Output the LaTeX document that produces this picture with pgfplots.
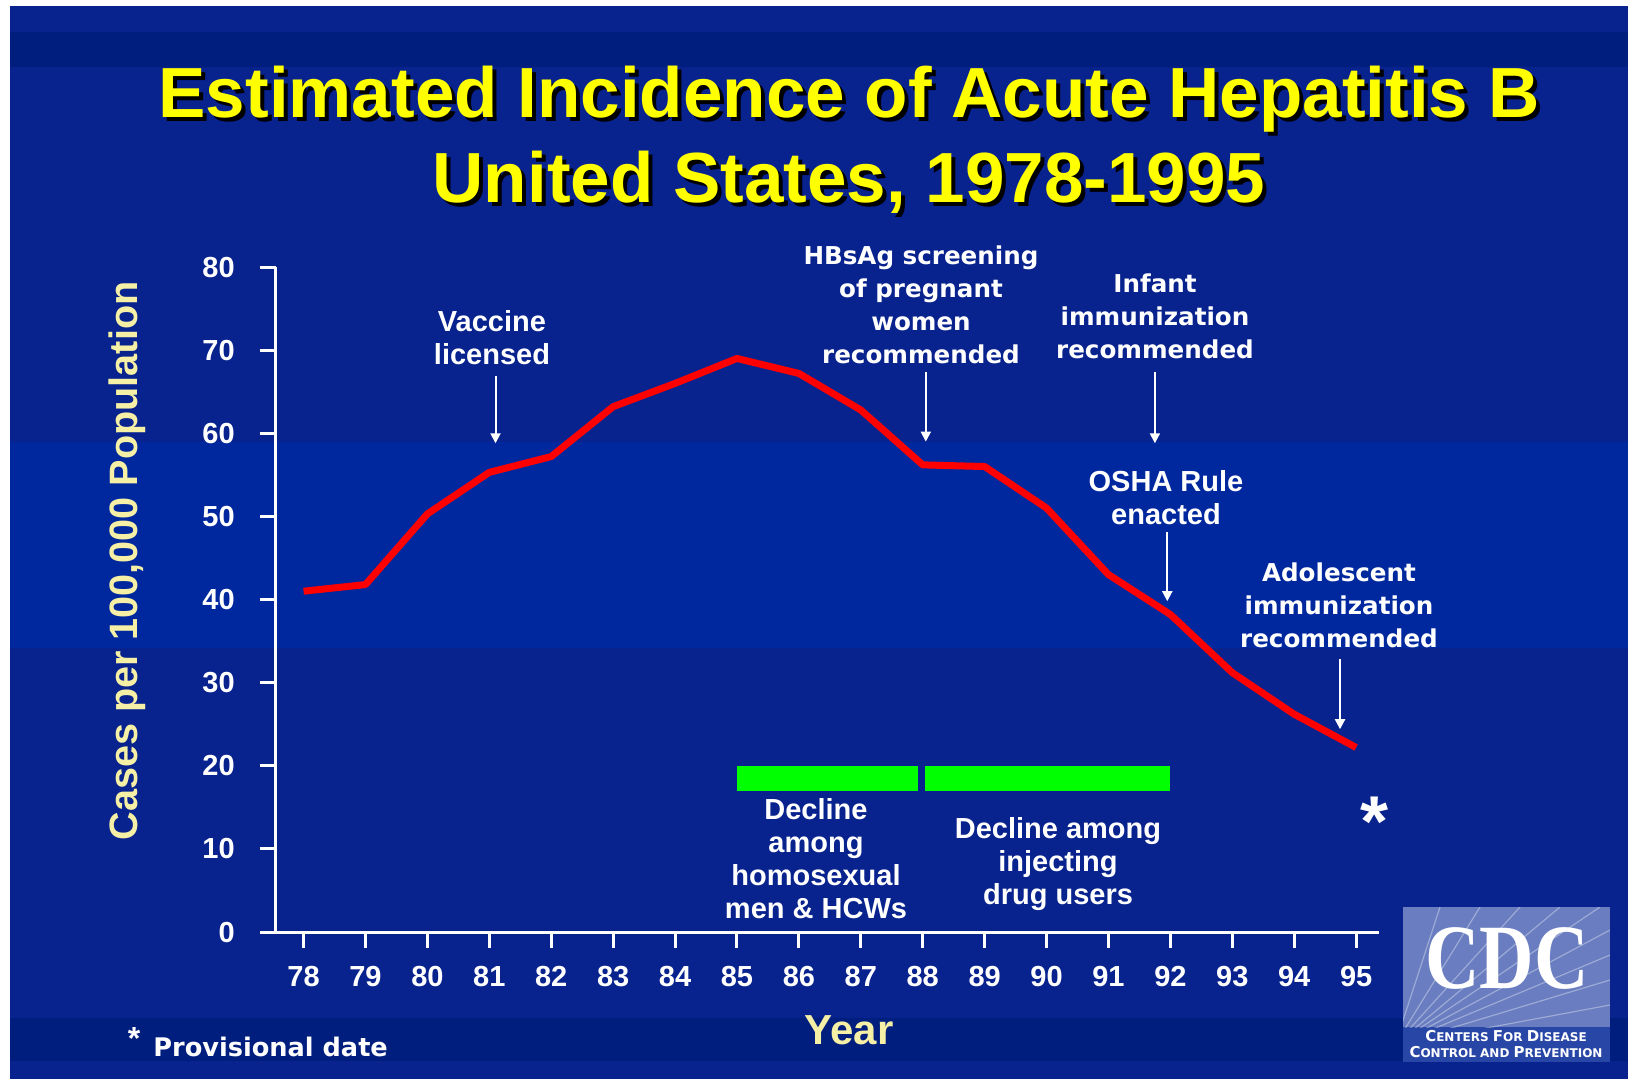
\documentclass[border=0pt]{standalone}
\usepackage{graphicx}
\usepackage{pgfplots}
\pgfplotsset{compat=1.18}
\usepackage{fontspec}
\setmainfont{Liberation Sans}
\newfontfamily\dejavu{DejaVu Sans}
\newfontfamily\lserif{Liberation Serif}
\usetikzlibrary{arrows.meta}
\definecolor{bgblue}{RGB}{8,34,142}
\definecolor{bandblue}{RGB}{0,40,158}
\definecolor{darkband}{RGB}{0,30,125}
\definecolor{paleyellow}{RGB}{245,240,165}
\definecolor{titleyellow}{RGB}{255,255,0}
\definecolor{logoup}{RGB}{105,125,192}
\definecolor{logolow}{RGB}{40,70,165}
\definecolor{barGreen}{RGB}{0,255,0}
\definecolor{lineRed}{RGB}{255,0,0}
\newcommand{\shadowtext}[1]{\leavevmode\rlap{\kern2bp\raisebox{-2bp}{\color{black}#1}}{\color{titleyellow}#1}}
\tikzset{
  annoA/.style={align=center, text=white, inner sep=0pt, anchor=north,
     font=\fontsize{14.5bp}{16.5bp}\selectfont\bfseries},
  annoB/.style={align=center, text=white, inner sep=0pt, anchor=north,
     font=\dejavu\fontsize{12.3bp}{16.5bp}\selectfont\bfseries},
  annoArrow/.style={white, line width=1bp, -{Triangle[width=5bp,length=5bp]}}
}
\begin{document}
\begin{tikzpicture}
\begin{scope}[x=0.5bp,y=-0.5bp]
 \useasboundingbox (0,0) rectangle (1628,1079);
 \fill[white] (0,0) rectangle (1628,1079);
 \fill[bgblue] (10,6) rectangle (1628,1079);
 \fill[darkband] (10,32) rectangle (1628,67);
 \fill[bandblue] (10,442) rectangle (1628,648);
 \fill[darkband] (10,1018) rectangle (1628,1061);
 % title with shadow
 \node[anchor=base, inner sep=0pt, font=\fontsize{35.5bp}{40bp}\selectfont\bfseries] at (849,117) {\shadowtext{Estimated Incidence of Acute Hepatitis B}};
 \node[anchor=base, inner sep=0pt, font=\fontsize{35.5bp}{40bp}\selectfont\bfseries] at (849,202) {\shadowtext{United States, 1978-1995}};
 % axis titles
 \node[rotate=90, text=paleyellow, inner sep=0pt, font=\fontsize{19.8bp}{22bp}\selectfont\bfseries] at (127,561) {Cases per 100,000 Population};
 \node[anchor=base, text=paleyellow, inner sep=0pt, font=\fontsize{21bp}{24bp}\selectfont\bfseries] at (849,1044) {Year};
 % annotations
 \node[annoA] at (492,310) {Vaccine\\licensed};
 \node[annoB] at (921,245) {HBsAg screening\\of pregnant\\women\\recommended};
 \node[annoB] at (1155,273) {Infant\\immunization\\recommended};
 \node[annoA] at (1166,470) {OSHA Rule\\enacted};
 \node[annoB] at (1339,562) {Adolescent\\immunization\\recommended};
 \node[annoA] at (816,798) {Decline\\among\\homosexual\\men \& HCWs};
 \node[annoA] at (1058,817) {Decline among\\injecting\\drug users};
 % asterisks and footnote
 \node[anchor=base, text=white, inner sep=0pt, font=\fontsize{36bp}{40bp}\selectfont\bfseries] at (1374,846) {*};
 \node[anchor=base, text=white, inner sep=0pt, font=\fontsize{16bp}{18bp}\selectfont\bfseries] at (134,1049) {*};
 \node[anchor=base west, text=white, inner sep=0pt, font=\dejavu\fontsize{12.8bp}{15bp}\selectfont\bfseries] at (153,1056) {Provisional date};
 % CDC logo
 \fill[logoup] (1403,907) rectangle (1610,1027);
 \fill[logolow] (1403,1027) rectangle (1610,1062);
 \begin{scope}
  \clip (1403,907) rectangle (1610,1027);
  \foreach \ex/\ey in {1440/907, 1480/907, 1520/907, 1560/907, 1600/907, 1610/930, 1610/955, 1610/980, 1610/1005}{
    \draw[white, opacity=0.35, line width=0.6bp] (1395,1045) -- (\ex,\ey);
  }
 \end{scope}
 \node[text=white, inner sep=0pt, font=\lserif\fontsize{46bp}{48bp}\selectfont\bfseries] at (1507,958) {\scalebox{0.82}[1]{CDC}};
 \node[text=white, inner sep=0pt, anchor=base, font=\dejavu\bfseries] at (1506,1041)
   {\fontsize{7.5bp}{8bp}\selectfont C\fontsize{6bp}{8bp}\selectfont ENTERS \fontsize{7.5bp}{8bp}\selectfont F\fontsize{6bp}{8bp}\selectfont OR \fontsize{7.5bp}{8bp}\selectfont D\fontsize{6bp}{8bp}\selectfont ISEASE};
 \node[text=white, inner sep=0pt, anchor=base, font=\dejavu\bfseries] at (1506,1057)
   {\fontsize{7.5bp}{8bp}\selectfont C\fontsize{6bp}{8bp}\selectfont ONTROL AND \fontsize{7.5bp}{8bp}\selectfont P\fontsize{6bp}{8bp}\selectfont REVENTION};
\end{scope}

\begin{axis}[
  at={(137.85bp,-466bp)}, anchor=south west,
  scale only axis, width=551.65bp, height=332.5bp,
  xmin=77.55, xmax=95.37, ymin=0, ymax=80,
  axis x line*=bottom, axis y line*=left,
  axis line style={white, line width=1.5bp},
  tick align=outside, major tick length=8bp,
  tick style={white, line width=1.5bp},
  xtick={78,79,80,81,82,83,84,85,86,87,88,89,90,91,92,93,94,95},
  xticklabels={78,79,80,81,82,83,84,85,86,87,88,89,90,91,92,93,94,95},
  ytick={0,10,20,30,40,50,60,70,80},
  yticklabels={0,10,20,30,40,50,60,70,80},
  tick label style={font=\fontsize{14.5bp}{16bp}\selectfont\bfseries, text=white},
  xticklabel style={yshift=-5.7bp},
  yticklabel style={xshift=-9bp},
  clip=false,
]
\addplot[fill=barGreen, draw=none] coordinates {(85,17) (87.93,17) (87.93,20) (85,20)} -- cycle;
\addplot[fill=barGreen, draw=none] coordinates {(88.03,17) (92,17) (92,20) (88.03,20)} -- cycle;
\addplot[color=lineRed, line width=3.5bp, line join=round] coordinates {
 (78,41.0) (79,41.8) (80,50.3) (81,55.3) (82,57.2) (83,63.2) (84,66.0) (85,69.0) (86,67.2)
 (87,62.8) (88,56.2) (89,56.0) (90,51.0) (91,43.0) (92,38.2) (93,31.2) (94,26.2) (95,22.2)};
\draw[annoArrow] (axis cs:81.1,66.9) -- (axis cs:81.1,58.8);
\draw[annoArrow] (axis cs:88.05,67.4) -- (axis cs:88.05,59.0);
\draw[annoArrow] (axis cs:91.75,67.4) -- (axis cs:91.75,58.8);
\draw[annoArrow] (axis cs:91.95,48.1) -- (axis cs:91.95,39.8);
\draw[annoArrow] (axis cs:94.74,32.8) -- (axis cs:94.74,24.4);
\end{axis}
\end{tikzpicture}
\end{document}
